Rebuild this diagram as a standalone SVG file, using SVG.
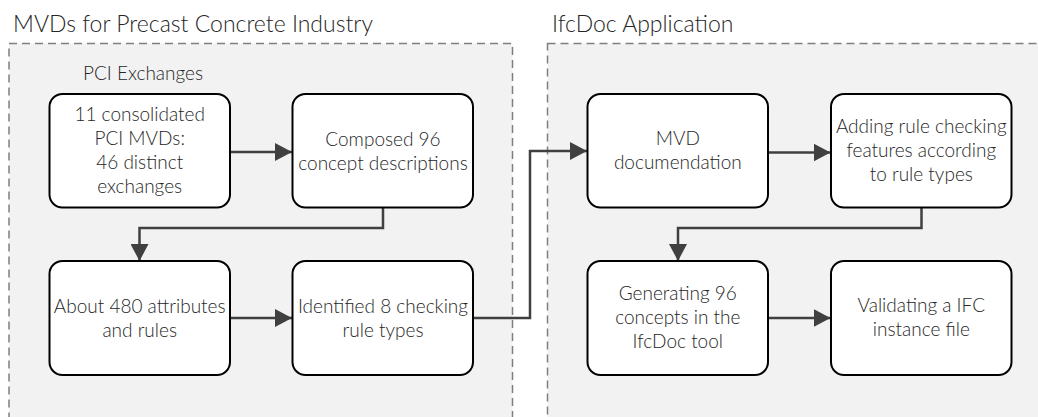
<svg xmlns="http://www.w3.org/2000/svg" width="1038" height="417" viewBox="0 0 1038 417">
<defs>
<style>
.panel{fill:#f2f2f2;stroke:#7f7f7f;stroke-width:1.5;stroke-dasharray:8,5}
.node rect{fill:#ffffff;stroke:#000000;stroke-width:2}
.title{font-family:Lato,"Liberation Sans",sans-serif;font-size:23px;font-weight:300;fill:#262626}
.sub{font-family:Lato,"Liberation Sans",sans-serif;font-size:19px;font-weight:300;fill:#262626}
.t{font-family:Lato,"Liberation Sans",sans-serif;font-size:19px;font-weight:300;fill:#262626;text-anchor:middle}
.conn{fill:none;stroke:#404040;stroke-width:2.5;marker-end:url(#ah)}
</style>
<marker id="ah" markerUnits="userSpaceOnUse" markerWidth="18" markerHeight="18" refX="17" refY="9" orient="auto">
<path d="M0,0 L17,9 L0,18 z" fill="#404040"/>
</marker>
</defs>
<rect width="1038" height="417" fill="#ffffff"/>
<g id="panel-left">
<rect class="panel" x="9" y="43.5" width="503.5" height="400"/>
<text class="title" x="13" y="32">MVDs for Precast Concrete Industry</text>
<text class="sub" x="83" y="80">PCI Exchanges</text>
</g>
<g id="panel-right">
<rect class="panel" x="547.5" y="43.5" width="520" height="400"/>
<text class="title" x="552" y="32">IfcDoc Application</text>
</g>
<g id="connectors">
<path class="conn" d="M230,152 L292,152"/>
<path class="conn" d="M383,207 L383,228 L139.5,228 L139.5,261"/>
<path class="conn" d="M230,318 L292,318"/>
<path class="conn" d="M473,318 L530,318 L530,151 L587,151"/>
<path class="conn" d="M768,152.5 L830.5,152.5"/>
<path class="conn" d="M921.5,207 L921.5,228 L678,228 L678,261"/>
<path class="conn" d="M768,318 L830.5,318"/>
</g>
<g id="n1" class="node">
<rect x="49.5" y="94" width="180.5" height="113.5" rx="13"/>
<text class="t" x="139.7" y="120.5">11 consolidated</text>
<text class="t" x="139.7" y="144.5">PCI MVDs:</text>
<text class="t" x="139.7" y="168.5">46 distinct</text>
<text class="t" x="139.7" y="192.5">exchanges</text>
</g>
<g id="n2" class="node">
<rect x="292.5" y="94" width="180.5" height="113.5" rx="13"/>
<text class="t" x="383" y="145.5">Composed 96</text>
<text class="t" x="383" y="169.5">concept descriptions</text>
</g>
<g id="n3" class="node">
<rect x="49.5" y="261" width="180.5" height="114" rx="13"/>
<text class="t" x="139.7" y="313">About 480 attributes</text>
<text class="t" x="139.7" y="337">and rules</text>
</g>
<g id="n4" class="node">
<rect x="292.5" y="261" width="180.5" height="114" rx="13"/>
<text class="t" x="383" y="313">Identified 8 checking</text>
<text class="t" x="383" y="337">rule types</text>
</g>
<g id="n5" class="node">
<rect x="587.5" y="94" width="180.5" height="113.5" rx="13"/>
<text class="t" x="677.8" y="145">MVD</text>
<text class="t" x="677.8" y="169">documendation</text>
</g>
<g id="n6" class="node">
<rect x="831" y="94" width="180.5" height="113.5" rx="13"/>
<text class="t" x="921.3" y="133">Adding rule checking</text>
<text class="t" x="921.3" y="157">features according</text>
<text class="t" x="921.3" y="181">to rule types</text>
</g>
<g id="n7" class="node">
<rect x="587.5" y="261" width="180.5" height="114" rx="13"/>
<text class="t" x="677.8" y="300">Generating 96</text>
<text class="t" x="677.8" y="324">concepts in the</text>
<text class="t" x="677.8" y="348">IfcDoc tool</text>
</g>
<g id="n8" class="node">
<rect x="831" y="261" width="180.5" height="114" rx="13"/>
<text class="t" x="921.3" y="312">Validating a IFC</text>
<text class="t" x="921.3" y="336">instance file</text>
</g>
</svg>
